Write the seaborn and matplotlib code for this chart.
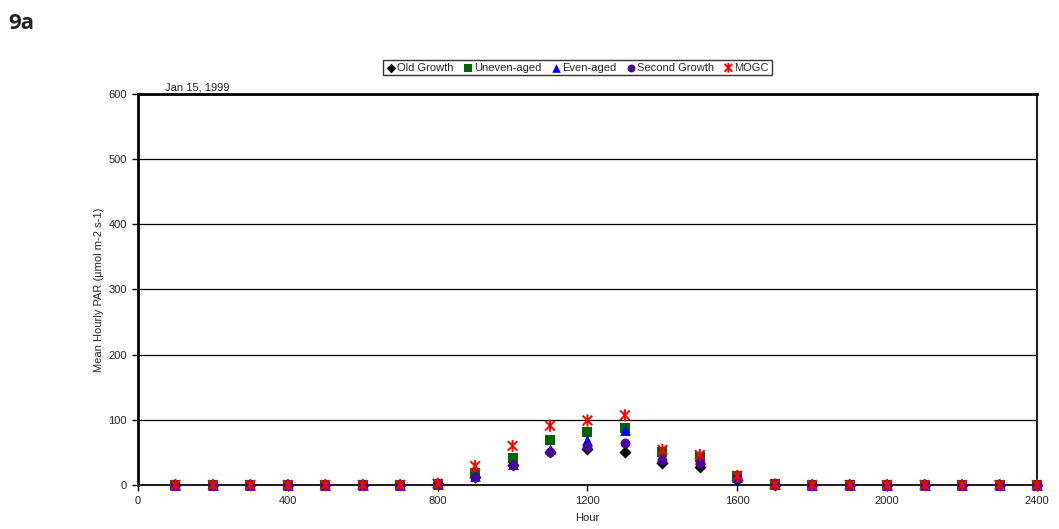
import numpy as np
import pandas as pd
import matplotlib
matplotlib.use("Agg")
import matplotlib.pyplot as plt
from matplotlib.path import Path
import seaborn as sns

# Hourly PAR readings, Jan 15, 1999
hours = list(range(100, 2500, 100))
old_growth   = [0, 0, 0, 0, 0, 0, 0, 1, 12, 30, 51, 55, 51, 34, 27, 8, 0.5, 0, 0, 0, 0, 0, 0, 0]
uneven_aged  = [0, 0, 0, 0, 0, 0, 0, 2, 19, 42, 69, 81, 87, 50, 43, 14, 1, 0, 0, 0, 0, 0, 0, 0]
even_aged    = [0, 0, 0, 0, 0, 0, 0, 1.5, 14, 32, 55, 69, 84, 43, 40, 12, 1, 0, 0, 0, 0, 0, 0, 0]
second_growth = [0, 0, 0, 0, 0, 0, 0, 1, 12, 31, 51, 59, 65, 39, 33, 10, 0.5, 0, 0, 0, 0, 0, 0, 0]
mogc         = [0, 0, 0, 0, 0, 0, 0, 2, 29, 60, 91, 99, 107, 54, 46, 14, 1, 0, 0, 0, 0, 0, 0, 0]

series_names = ["Old Growth", "Uneven-aged", "Even-aged", "Second Growth", "MOGC"]
series_vals = [old_growth, uneven_aged, even_aged, second_growth, mogc]
colors = ["#000000", "#006400", "#0000FF", "#4B0099", "#FF0000"]

# asterisk: vertical bar crossed by an X
star = Path([(0, -1), (0, 1), (-0.8, -0.8), (0.8, 0.8), (-0.8, 0.8), (0.8, -0.8)],
            [Path.MOVETO, Path.LINETO, Path.MOVETO, Path.LINETO, Path.MOVETO, Path.LINETO])
markers = ["D", "s", "^", "o", star]
sizes = [38, 60, 60, 50, 75]

sns.set_theme(style="white")
plt.rcParams["font.family"] = ["Liberation Sans", "DejaVu Sans"]

fig = plt.figure(figsize=(10.59, 5.29), dpi=100)
ax = fig.add_axes([0.1303, 0.0832, 0.8489, 0.7391])

df = pd.DataFrame({"Hour": hours})
for name, vals, c, m, s in zip(series_names, series_vals, colors, markers, sizes):
    df[name] = vals
    is_star = m is star
    kw = dict(linewidths=1.4, edgecolor=c) if is_star else dict(linewidth=0)
    sns.scatterplot(data=df, x="Hour", y=name, ax=ax, color=c, marker=m, s=s,
                    label=name, clip_on=False, zorder=3, **kw)
    if is_star:
        coll = ax.collections[-1]
        coll.set_facecolor("none")
        coll.set_edgecolor(c)

ax.set_xlim(0, 2400)
ax.set_ylim(0, 600)
ax.set_xticks(range(0, 2401, 400))
ax.set_yticks(range(0, 601, 100))
ax.tick_params(axis="both", labelsize=8, direction="out", length=4, width=1,
               color="black", left=True, bottom=True, pad=4)
ax.yaxis.grid(True, color="black", linewidth=0.9)
ax.xaxis.grid(False)
for side in ["left", "top"]:
    ax.spines[side].set_color("black")
    ax.spines[side].set_linewidth(2)
for side in ["right", "bottom"]:
    ax.spines[side].set_color("#222222")
    ax.spines[side].set_linewidth(1.5)

ax.set_xlabel("Hour", fontsize=8, labelpad=5)
ax.set_ylabel("Mean Hourly PAR (µmol m-2 s-1)", fontsize=8, labelpad=3)

ax.text(0.03, 1.003, "Jan 15, 1999", transform=ax.transAxes, fontsize=8,
        ha="left", va="bottom")

handles, labels = ax.get_legend_handles_labels()
leg = fig.legend(handles, labels, loc="center", bbox_to_anchor=(0.545, 0.872),
                 ncol=5, fontsize=8, frameon=True, fancybox=False,
                 edgecolor="black", handletextpad=0.05, columnspacing=0.8,
                 borderpad=0.25, handlelength=1.0, markerscale=0.8)
leg.get_frame().set_linewidth(1)
star_handle = leg.legend_handles[-1]
star_handle.set_facecolor("none")
star_handle.set_edgecolor(colors[-1])
if ax.get_legend():
    ax.get_legend().remove()

fig.text(0.008, 0.955, "9a", fontsize=16, fontweight="bold",
         family=["Open Sans", "DejaVu Sans"], color="#222222", ha="left", va="center")

fig.savefig("out.png", dpi=100, facecolor="white")
